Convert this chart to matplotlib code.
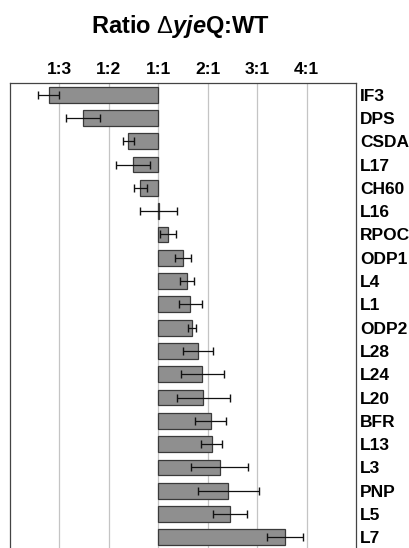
import numpy as np
import matplotlib.pyplot as plt

plt.rcParams['font.family'] = ['Liberation Sans', 'DejaVu Sans']
plt.rcParams['mathtext.fontset'] = 'custom'
plt.rcParams['mathtext.rm'] = 'Liberation Sans:bold'
plt.rcParams['mathtext.it'] = 'Liberation Sans:italic:bold'
plt.rcParams['mathtext.sf'] = 'Liberation Sans'

# proteins, top to bottom
proteins = ['IF3', 'DPS', 'CSDA', 'L17', 'CH60', 'L16', 'RPOC', 'ODP1', 'L4', 'L1',
            'ODP2', 'L28', 'L24', 'L20', 'BFR', 'L13', 'L3', 'PNP', 'L5', 'L7']

# fold change on a signed scale: 0 = 1:1, +1 = 2:1, -1 = 1:2, ...
fold = [-2.22, -1.52, -0.61, -0.51, -0.36, 0.01, 0.19, 0.50, 0.58, 0.65,
        0.68, 0.81, 0.89, 0.91, 1.06, 1.08, 1.24, 1.42, 1.45, 2.56]
fold_err = [0.21, 0.35, 0.11, 0.34, 0.14, 0.37, 0.16, 0.17, 0.14, 0.23,
            0.075, 0.30, 0.43, 0.54, 0.31, 0.21, 0.58, 0.62, 0.35, 0.36]

tick_pos = [-2, -1, 0, 1, 2, 3]
tick_labels = ['1:3', '1:2', '1:1', '2:1', '3:1', '4:1']

fig = plt.figure(figsize=(4.09, 5.48), dpi=100)
ax = fig.add_axes([10 / 409, -1 / 548, 346 / 409, 466 / 548])

y = np.arange(len(proteins))
ax.barh(y, fold, height=0.68, left=0, color='#8f8f8f', edgecolor='#3a3a3a',
        linewidth=0.9, zorder=2)
ax.errorbar(fold, y, xerr=fold_err, fmt='none', ecolor='#111111', elinewidth=0.9,
            capsize=2.8, capthick=1.0, zorder=3)

ax.set_xlim(-3, 4)
ax.set_ylim(len(proteins) - 0.5, -0.5)

ax.xaxis.tick_top()
ax.set_xticks(tick_pos)
ax.set_xticklabels(tick_labels, fontsize=12.5, fontweight='bold')
ax.tick_params(axis='x', length=0, pad=4)
ax.grid(axis='x', color='#c4c4c4', linewidth=0.9, zorder=0)
ax.set_axisbelow(True)

ax.yaxis.tick_right()
ax.set_yticks(y)
ax.set_yticklabels(proteins, fontsize=12.5, fontweight='bold')
ax.tick_params(axis='y', length=0, pad=3)

for side in ['left', 'right', 'top', 'bottom']:
    ax.spines[side].set_color('#444444')
    ax.spines[side].set_linewidth(0.9)

fig.text(180 / 409, 1 - 33 / 548, r'Ratio $\mathsf{\Delta}\mathit{yje}$Q:WT',
         ha='center', va='baseline', fontsize=17, fontweight='bold')

fig.savefig('out.png', dpi=100)
